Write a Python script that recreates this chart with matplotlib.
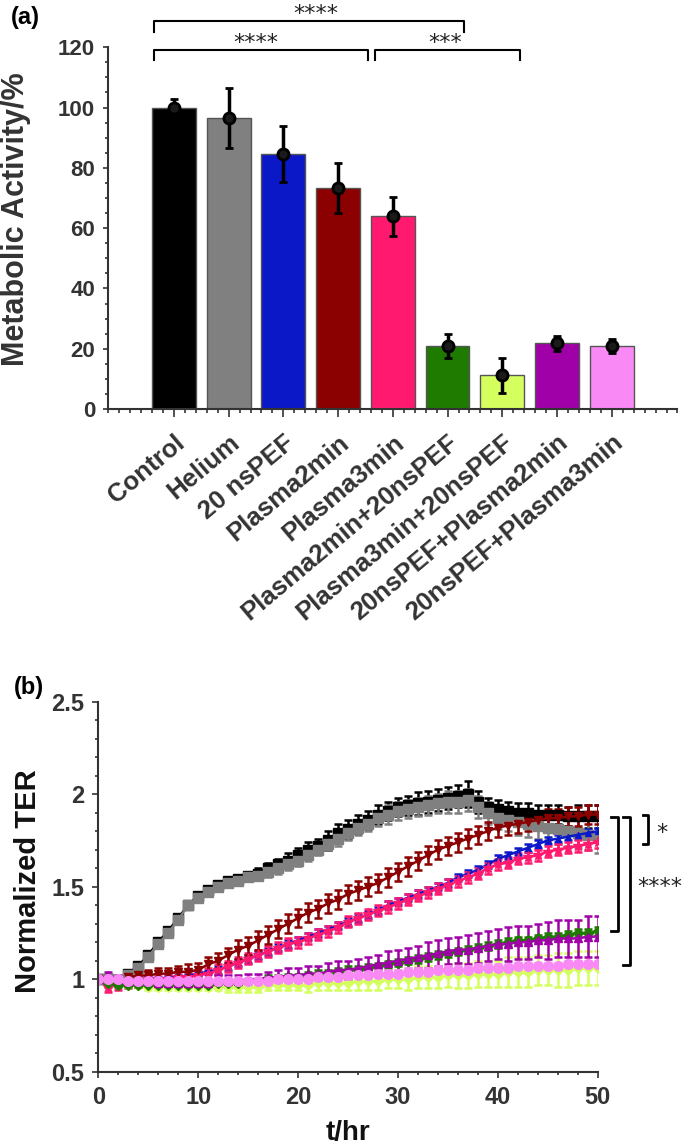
import numpy as np
import matplotlib
matplotlib.use("Agg")
import matplotlib.pyplot as plt
from matplotlib.ticker import MultipleLocator, FormatStrFormatter
from matplotlib.transforms import ScaledTranslation

plt.rcParams['font.family'] = ['Liberation Sans', 'DejaVu Sans']

# ---------------- données (a) : activité métabolique ----------------
groupes = ['Control', 'Helium', '20 nsPEF', 'Plasma2min', 'Plasma3min',
           'Plasma2min+20nsPEF', 'Plasma3min+20nsPEF',
           '20nsPEF+Plasma2min', '20nsPEF+Plasma3min']
activite = [100.0, 96.6, 84.7, 73.3, 63.9, 20.9, 11.2, 21.8, 21.0]
activite_err = [3.0, 10.0, 9.3, 8.3, 6.5, 4.0, 5.8, 2.5, 2.3]
couleurs = ['#000000', '#808080', '#0a18c8', '#8b0000', '#ff1a70',
            '#1f7a00', '#d4ff5f', '#a000a8', '#f98af5']

# ---------------- données (b) : TER normalisée ----------------
temps = list(range(0, 51))

control = [1.00, 1.00, 0.99, 1.03, 1.07, 1.13, 1.20, 1.26, 1.33, 1.40,
           1.45, 1.48, 1.51, 1.53, 1.54, 1.56, 1.57, 1.60, 1.62, 1.64,
           1.67, 1.70, 1.72, 1.75, 1.79, 1.81, 1.84, 1.86, 1.89, 1.91,
           1.93, 1.94, 1.95, 1.96, 1.97, 1.98, 1.99, 2.00, 1.96, 1.93,
           1.92, 1.91, 1.90, 1.90, 1.89, 1.89, 1.89, 1.88, 1.88, 1.88,
           1.88]
control_err = [0.01, 0.01, 0.01, 0.01, 0.02, 0.02, 0.02, 0.02, 0.02, 0.02,
               0.02, 0.02, 0.02, 0.02, 0.02, 0.02, 0.03, 0.03, 0.03, 0.04,
               0.04, 0.04, 0.04, 0.05, 0.05, 0.05, 0.05, 0.05, 0.05, 0.05,
               0.05, 0.05, 0.06, 0.06, 0.06, 0.06, 0.06, 0.07, 0.06, 0.05,
               0.05, 0.05, 0.05, 0.05, 0.05, 0.05, 0.05, 0.05, 0.06, 0.06,
               0.06]

helium = [1.00, 1.00, 0.99, 1.02, 1.06, 1.12, 1.19, 1.25, 1.32, 1.40,
          1.44, 1.47, 1.50, 1.52, 1.53, 1.55, 1.56, 1.58, 1.60, 1.62,
          1.64, 1.67, 1.70, 1.73, 1.76, 1.79, 1.82, 1.84, 1.87, 1.89,
          1.91, 1.92, 1.93, 1.94, 1.95, 1.96, 1.96, 1.97, 1.93, 1.90,
          1.87, 1.86, 1.85, 1.84, 1.83, 1.82, 1.81, 1.80, 1.79, 1.78,
          1.77]
helium_err = [0.01, 0.01, 0.01, 0.02, 0.02, 0.02, 0.02, 0.02, 0.02, 0.02,
              0.02, 0.02, 0.02, 0.02, 0.02, 0.02, 0.02, 0.03, 0.03, 0.03,
              0.03, 0.03, 0.03, 0.03, 0.04, 0.04, 0.04, 0.04, 0.04, 0.05,
              0.05, 0.05, 0.05, 0.05, 0.05, 0.06, 0.06, 0.06, 0.06, 0.06,
              0.06, 0.06, 0.07, 0.07, 0.07, 0.07, 0.08, 0.08, 0.08, 0.08,
              0.09]

nspef = [1.00, 0.99, 0.98, 0.99, 1.00, 1.00, 1.00, 1.01, 1.01, 1.02,
         1.03, 1.04, 1.05, 1.07, 1.09, 1.11, 1.13, 1.15, 1.17, 1.19,
         1.21, 1.23, 1.25, 1.27, 1.29, 1.31, 1.33, 1.35, 1.37, 1.40,
         1.42, 1.44, 1.46, 1.48, 1.50, 1.52, 1.55, 1.57, 1.59, 1.62,
         1.65, 1.67, 1.69, 1.71, 1.73, 1.75, 1.76, 1.77, 1.78, 1.79,
         1.80]
nspef_err = [0.01, 0.01, 0.01, 0.01, 0.01, 0.01, 0.01, 0.01, 0.01, 0.01,
             0.01, 0.01, 0.02, 0.02, 0.02, 0.02, 0.02, 0.02, 0.02, 0.02,
             0.02, 0.02, 0.02, 0.02, 0.02, 0.02, 0.02, 0.02, 0.02, 0.02,
             0.02, 0.02, 0.02, 0.02, 0.02, 0.02, 0.02, 0.02, 0.02, 0.02,
             0.02, 0.02, 0.02, 0.02, 0.02, 0.02, 0.02, 0.02, 0.02, 0.02,
             0.02]

plasma2 = [1.00, 0.98, 0.99, 1.01, 1.02, 1.02, 1.03, 1.03, 1.04, 1.04,
           1.05, 1.08, 1.10, 1.13, 1.16, 1.18, 1.21, 1.24, 1.27, 1.30,
           1.33, 1.36, 1.38, 1.41, 1.43, 1.46, 1.48, 1.50, 1.52, 1.55,
           1.58, 1.61, 1.64, 1.67, 1.70, 1.72, 1.74, 1.76, 1.78, 1.80,
           1.82, 1.83, 1.84, 1.85, 1.86, 1.87, 1.87, 1.88, 1.88, 1.89,
           1.89]
plasma2_err = [0.02, 0.02, 0.02, 0.02, 0.03, 0.03, 0.03, 0.03, 0.03, 0.04,
               0.04, 0.04, 0.04, 0.04, 0.05, 0.05, 0.05, 0.05, 0.05, 0.05,
               0.05, 0.05, 0.05, 0.05, 0.05, 0.05, 0.05, 0.05, 0.05, 0.05,
               0.05, 0.05, 0.05, 0.05, 0.05, 0.05, 0.05, 0.05, 0.05, 0.05,
               0.05, 0.05, 0.05, 0.05, 0.05, 0.05, 0.05, 0.05, 0.05, 0.05,
               0.05]

plasma3 = [1.00, 0.96, 0.97, 0.98, 0.99, 1.00, 1.00, 1.00, 1.01, 1.01,
           1.02, 1.03, 1.05, 1.07, 1.09, 1.11, 1.13, 1.15, 1.17, 1.19,
           1.20, 1.22, 1.24, 1.26, 1.28, 1.31, 1.33, 1.35, 1.37, 1.39,
           1.41, 1.43, 1.45, 1.47, 1.49, 1.51, 1.53, 1.55, 1.57, 1.60,
           1.62, 1.63, 1.65, 1.66, 1.67, 1.69, 1.70, 1.71, 1.72, 1.73,
           1.74]
plasma3_err = [0.02, 0.03, 0.03, 0.03, 0.03, 0.03, 0.03, 0.03, 0.03, 0.03,
               0.03, 0.03, 0.03, 0.03, 0.03, 0.03, 0.03, 0.03, 0.03, 0.03,
               0.03, 0.03, 0.03, 0.03, 0.03, 0.03, 0.03, 0.03, 0.03, 0.03,
               0.03, 0.03, 0.03, 0.03, 0.03, 0.03, 0.03, 0.03, 0.03, 0.03,
               0.03, 0.03, 0.03, 0.03, 0.03, 0.03, 0.03, 0.03, 0.03, 0.03,
               0.03]

p2_pef = [1.00, 0.98, 0.97, 0.97, 0.97, 0.97, 0.97, 0.97, 0.97, 0.97,
          0.97, 0.97, 0.98, 0.98, 0.98, 0.99, 0.99, 1.00, 1.00, 1.01,
          1.01, 1.02, 1.03, 1.03, 1.04, 1.05, 1.05, 1.06, 1.07, 1.08,
          1.09, 1.10, 1.11, 1.12, 1.13, 1.14, 1.15, 1.16, 1.17, 1.18,
          1.19, 1.20, 1.21, 1.21, 1.22, 1.23, 1.23, 1.24, 1.25, 1.25,
          1.26]
p2_pef_err = [0.01, 0.01, 0.01, 0.01, 0.01, 0.01, 0.01, 0.01, 0.01, 0.01,
              0.01, 0.01, 0.01, 0.01, 0.01, 0.01, 0.01, 0.02, 0.02, 0.02,
              0.02, 0.02, 0.02, 0.02, 0.02, 0.02, 0.02, 0.02, 0.02, 0.02,
              0.02, 0.02, 0.02, 0.02, 0.02, 0.02, 0.02, 0.02, 0.02, 0.02,
              0.02, 0.02, 0.02, 0.02, 0.02, 0.02, 0.02, 0.02, 0.02, 0.02,
              0.02]

p3_pef = [1.00, 0.99, 0.98, 0.97, 0.97, 0.96, 0.96, 0.96, 0.96, 0.96,
          0.96, 0.96, 0.96, 0.96, 0.96, 0.96, 0.96, 0.97, 0.97, 0.97,
          0.97, 0.97, 0.98, 0.98, 0.98, 0.98, 0.99, 0.99, 0.99, 1.00,
          1.00, 1.00, 1.01, 1.01, 1.01, 1.02, 1.02, 1.02, 1.03, 1.03,
          1.03, 1.04, 1.04, 1.04, 1.05, 1.05, 1.05, 1.05, 1.06, 1.06,
          1.06]
p3_pef_err = [0.01, 0.01, 0.01, 0.01, 0.02, 0.02, 0.02, 0.02, 0.02, 0.02,
              0.02, 0.02, 0.02, 0.03, 0.03, 0.03, 0.03, 0.03, 0.03, 0.03,
              0.03, 0.04, 0.04, 0.04, 0.04, 0.04, 0.05, 0.05, 0.05, 0.05,
              0.05, 0.06, 0.06, 0.06, 0.06, 0.06, 0.07, 0.07, 0.07, 0.07,
              0.07, 0.08, 0.08, 0.08, 0.08, 0.08, 0.09, 0.09, 0.09, 0.09,
              0.09]

pef_p2 = [1.00, 1.02, 1.00, 0.99, 0.99, 0.99, 0.98, 0.98, 0.98, 0.98,
          0.98, 0.98, 0.99, 0.99, 0.99, 1.00, 1.00, 1.01, 1.01, 1.02,
          1.02, 1.03, 1.03, 1.04, 1.05, 1.05, 1.06, 1.07, 1.08, 1.09,
          1.10, 1.11, 1.12, 1.13, 1.14, 1.15, 1.16, 1.16, 1.17, 1.18,
          1.19, 1.19, 1.20, 1.20, 1.21, 1.21, 1.22, 1.22, 1.22, 1.23,
          1.23]
pef_p2_err = [0.01, 0.02, 0.02, 0.02, 0.02, 0.02, 0.02, 0.02, 0.02, 0.02,
              0.02, 0.02, 0.03, 0.03, 0.03, 0.03, 0.03, 0.03, 0.04, 0.04,
              0.04, 0.04, 0.04, 0.05, 0.05, 0.05, 0.05, 0.05, 0.05, 0.06,
              0.06, 0.06, 0.06, 0.07, 0.07, 0.07, 0.07, 0.08, 0.08, 0.08,
              0.08, 0.09, 0.09, 0.09, 0.09, 0.10, 0.10, 0.10, 0.10, 0.11,
              0.11]

pef_p3 = [1.00, 1.00, 1.00, 0.99, 0.99, 0.99, 0.99, 0.99, 0.99, 0.99,
          0.99, 0.99, 0.99, 0.99, 0.99, 0.99, 0.99, 0.99, 1.00, 1.00,
          1.00, 1.00, 1.01, 1.01, 1.01, 1.02, 1.02, 1.02, 1.03, 1.03,
          1.03, 1.04, 1.04, 1.04, 1.05, 1.05, 1.05, 1.05, 1.06, 1.06,
          1.06, 1.06, 1.07, 1.07, 1.07, 1.07, 1.07, 1.08, 1.08, 1.08,
          1.08]
pef_p3_err = [0.01, 0.01, 0.01, 0.01, 0.01, 0.01, 0.01, 0.01, 0.01, 0.01,
              0.01, 0.01, 0.01, 0.01, 0.01, 0.01, 0.01, 0.01, 0.01, 0.01,
              0.01, 0.01, 0.01, 0.01, 0.01, 0.01, 0.01, 0.01, 0.02, 0.02,
              0.02, 0.02, 0.02, 0.02, 0.02, 0.02, 0.02, 0.02, 0.02, 0.02,
              0.02, 0.02, 0.02, 0.02, 0.02, 0.02, 0.02, 0.02, 0.02, 0.02,
              0.02]

# ordre de tracé (le dernier est au-dessus)
series = [(control, control_err, '#000000', 's', 7),
          (helium, helium_err, '#808080', 's', 7),
          (nspef, nspef_err, '#0a18c8', '^', 5),
          (plasma3, plasma3_err, '#ff1a70', '*', 8),
          (plasma2, plasma2_err, '#8b0000', 'v', 6),
          (p3_pef, p3_pef_err, '#d4ff5f', 'D', 5),
          (p2_pef, p2_pef_err, '#1f7a00', 'D', 5),
          (pef_p2, pef_p2_err, '#a000a8', '^', 6),
          (pef_p3, pef_p3_err, '#f98af5', 'o', 7)]

gris = '#333333'
fig = plt.figure(figsize=(6.85, 11.47), dpi=100)

# ================= (a) =================
ax1 = fig.add_axes([0.158, 0.6434, 0.831, 0.3154])
x = np.arange(1, len(groupes) + 1)
ax1.bar(x, activite, width=0.8, color=couleurs, edgecolor='#555555', linewidth=1)
ax1.errorbar(x, activite, yerr=activite_err, fmt='o', color='k', ms=8,
             mfc='#1a1a1a', mec='k', mew=2, elinewidth=2.5, capsize=3, capthick=3)
ax1.set_xlim(-0.2, 10.2)
ax1.set_ylim(0, 120)
ax1.spines['top'].set_visible(False)
ax1.spines['right'].set_visible(False)
for s in ['left', 'bottom']:
    ax1.spines[s].set_linewidth(1.5)
    ax1.spines[s].set_color(gris)
ax1.yaxis.set_major_locator(MultipleLocator(20))
ax1.yaxis.set_minor_locator(MultipleLocator(5))
ax1.set_xticks(x)
ax1.xaxis.set_minor_locator(MultipleLocator(0.2))
ax1.set_xticklabels(groupes, rotation=40, ha='right', va='top',
                    rotation_mode='anchor', fontsize=18.5, fontweight='bold', color=gris)
decalage = ScaledTranslation(0.18, 0, fig.dpi_scale_trans)
for lab in ax1.get_xticklabels():
    lab.set_transform(lab.get_transform() + decalage)
ax1.tick_params(axis='x', which='major', length=5.5, width=1.2, color=gris, pad=10)
ax1.tick_params(axis='x', which='minor', length=3, width=1.2, color=gris)
ax1.tick_params(axis='y', which='major', length=3.5, width=1.2, color=gris,
                labelsize=16, labelcolor=gris, pad=6)
ax1.tick_params(axis='y', which='minor', length=2.5, width=1.2, color=gris)
for lab in ax1.get_yticklabels():
    lab.set_fontweight('bold')
fig.text(0.024, 0.809, 'Metabolic Activity/%', rotation=90, ha='center', va='center',
         fontsize=22, fontweight='bold', color=gris)
fig.text(0.037, 0.985, '(a)', ha='center', va='center', fontsize=17, fontweight='bold')

# crochets de significativité
crochets = [(0.63, 6.30, 125.2, 128.7, 3.59, 131.0, '****'),
            (0.63, 4.54, 115.7, 119.2, 2.50, 121.3, '****'),
            (4.68, 7.33, 115.7, 119.2, 5.96, 121.3, '***')]
for x0, x1, ybas, yhaut, xt, yt, txt in crochets:
    ax1.plot([x0, x0, x1, x1], [ybas, yhaut, yhaut, ybas], color='k', lw=1.5,
             clip_on=False)
    ax1.text(xt, yt, txt, ha='center', va='center', fontsize=16,
             family='DejaVu Sans', color='#222222')

# ================= (b) =================
ax2 = fig.add_axes([0.1435, 0.0657, 0.729, 0.3225])
for moy, err, c, m, taille in series:
    ax2.errorbar(temps, moy, yerr=err, color=c, marker=m, ms=taille, mec=c, lw=1.8,
                 elinewidth=1.8, capsize=3.2, capthick=1.8)
ax2.set_xlim(0, 50)
ax2.set_ylim(0.5, 2.5)
ax2.spines['top'].set_visible(False)
ax2.spines['right'].set_visible(False)
for s in ['left', 'bottom']:
    ax2.spines[s].set_linewidth(1.5)
    ax2.spines[s].set_color(gris)
ax2.xaxis.set_major_locator(MultipleLocator(10))
ax2.xaxis.set_minor_locator(MultipleLocator(2))
ax2.yaxis.set_major_locator(MultipleLocator(0.5))
ax2.yaxis.set_minor_locator(MultipleLocator(0.1))
ax2.yaxis.set_major_formatter(FormatStrFormatter('%g'))
ax2.tick_params(which='major', length=4, width=1.2, color=gris, labelsize=17,
                labelcolor=gris, pad=6)
ax2.tick_params(which='minor', length=2.5, width=1.2, color=gris)
for lab in ax2.get_xticklabels() + ax2.get_yticklabels():
    lab.set_fontweight('bold')
ax2.set_xlabel('t/hr', fontsize=20, fontweight='bold', color='#111111', labelpad=8)
fig.text(0.041, 0.232, 'Normalized TER', rotation=90, ha='center', va='center',
         fontsize=21, fontweight='bold', color='#111111')
fig.text(0.042, 0.401, '(b)', ha='center', va='center', fontsize=17, fontweight='bold')

# crochets à droite
crochets_b = [(52.0, 51.3, 1.258, 1.879),
              (53.2, 52.5, 1.077, 1.879),
              (55.0, 54.5, 1.730, 1.889)]
for xv, xg, ybas, yhaut in crochets_b:
    ax2.plot([xg, xv, xv, xg], [ybas, ybas, yhaut, yhaut], color='k', lw=2,
             clip_on=False)
ax2.text(56.4, 1.79, '*', ha='center', va='center', fontsize=16,
         family='DejaVu Sans', color='#222222', clip_on=False)
ax2.text(56.2, 1.50, '****', ha='center', va='center', fontsize=16,
         family='DejaVu Sans', color='#222222', clip_on=False)

fig.savefig('out.png', dpi=100)
